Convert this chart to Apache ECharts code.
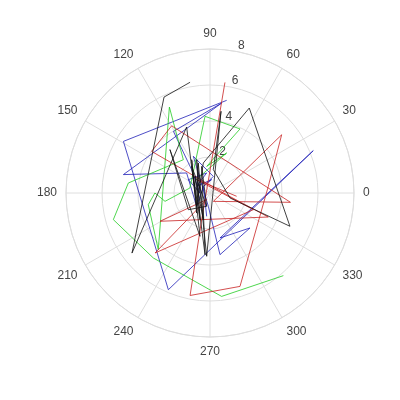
<!DOCTYPE html>
<html>
<head>
<meta charset="utf-8">
<script src="https://cdn.jsdelivr.net/npm/echarts@6/dist/echarts.min.js"></script>
<style>
html, body { margin: 0; padding: 0; background: #fff; }
#chart { width: 400px; height: 400px; }
</style>
</head>
<body>
<div id="chart"></div>
<script>
// angle ticks (degrees) and radius ticks
var angleTicks = [0, 30, 60, 90, 120, 150, 180, 210, 240, 270, 300, 330];
var radiusTicks = [2, 4, 6, 8];

// radius, angle (deg)
var redR = [6.2, 1.55, 5.8, 5.45, 3.26, 5.13, 0.5, 4.5, 4.3, 3.98, 0.93, 3.5, 3.19, 0.41, 4.52, 2.58, 1.05, 1.49];
var redA = [82.3, 252.6, 259, 287.8, 6.5, 39.1, 292, 353.4, 119.7, 144.5, 354, 337.6, 209.5, 243, 227.5, 339, 135, 353];

var greenR = [6.14, 5.78, 4.79, 5.57, 4.57, 2.37, 5.28, 4.26, 3.49, 3.06, 2.54, 1.15, 4.27, 3.93, 1.49, 2.41, 1.08];
var greenA = [311.6, 276.4, 228.9, 195.4, 173, 128.7, 115.3, 227.6, 190.7, 180, 190.5, 166, 93.7, 64.9, 97, 67.4, 121];

var blueR = [5.23, 5.6, 5.85, 6.2, 2.56, 2.95, 3.47, 0.75, 2.24, 0.94, 0.52, 1.05, 1.71, 4.92, 5.04, 3.98,
    1.65, 0.56, 1.41, 1.13, 0.83, 0.75, 0.52, 1.31];
var blueA = [79.8, 149.2, 246.7, 22.3, 282.5, 318.8, 279.2, 263, 114.4, 78.7, 135, 225, 139.4, 168, 82.6, 120.7,
    128.2, 180, 148.4, 99.5, 153.4, 82.9, 135, 261.9];

var blackR = [6.25, 5.91, 5.47, 3.89, 1.05, 1.71, 5.2, 4.81, 1.15, 1.31, 4.58, 3.52, 1.99, 1.58, 1.8, 0.76, 1.52, 3.28, 2.47,
    2.11, 1.34, 1.79, 1.53, 1.25, 3.44, 1.55, 0.76];
var blackA = [100.2, 115.6, 217.6, 109.5, 225, 102.5, 65.2, 337.4, 346, 81.9, 82.3, 267, 111.8, 249.4, 124.5, 256, 217.6, 132.7, 257,
    118.8, 236.3, 111.3, 256, 132, 265.4, 107.4, 256];

function pairs(r, a) {
    var out = [];
    for (var i = 0; i < r.length; i++) {
        out.push([r[i], a[i]]);
    }
    return out;
}

function lineSeries(name, r, a, color) {
    return {
        name: name,
        type: 'line',
        coordinateSystem: 'polar',
        polarIndex: 0,
        symbol: 'none',
        animation: false,
        lineStyle: { width: 0.8, color: color },
        data: pairs(r, a)
    };
}

var gridColor = '#dedede';
var textColor = '#444';
var center = ['210', '193'];
var radius = 144;

var option = {
    animation: false,
    polar: [
        { center: center, radius: radius },
        { center: center, radius: radius }
    ],
    angleAxis: [{
        polarIndex: 0,
        type: 'value',
        min: 0,
        max: 360,
        interval: 30,
        startAngle: 0,
        clockwise: false,
        axisLine: { lineStyle: { color: gridColor, width: 1 } },
        axisTick: { show: false },
        splitLine: { lineStyle: { color: gridColor, width: 1 } },
        axisLabel: {
            color: textColor,
            fontSize: 12,
            fontFamily: 'Liberation Sans, Arial, sans-serif',
            margin: 9,
            formatter: function (v) {
                return angleTicks.indexOf(v) >= 0 ? String(v) : '';
            }
        }
    }, {
        // only here to place the radius labels along the 80 degree line
        polarIndex: 1,
        type: 'value',
        min: 0,
        max: 360,
        startAngle: 80,
        clockwise: false,
        axisLine: { show: false },
        axisTick: { show: false },
        axisLabel: { show: false },
        splitLine: { show: false }
    }],
    radiusAxis: [{
        polarIndex: 0,
        type: 'value',
        min: 0,
        max: 8,
        interval: 2,
        axisLine: { show: false },
        axisTick: { show: false },
        axisLabel: { show: false },
        splitLine: { lineStyle: { color: gridColor, width: 1 } }
    }, {
        polarIndex: 1,
        type: 'value',
        min: 0,
        max: 8,
        interval: 2,
        axisLine: { show: false },
        axisTick: { show: false },
        splitLine: { show: false },
        axisLabel: {
            color: textColor,
            fontSize: 12,
            fontFamily: 'Liberation Sans, Arial, sans-serif',
            margin: -3,
            align: 'left',
            verticalAlign: 'bottom',
            formatter: function (v) {
                return radiusTicks.indexOf(v) >= 0 ? String(v) : '';
            }
        }
    }],
    series: [
        lineSeries('blue', blueR, blueA, '#2020b8'),
        lineSeries('green', greenR, greenA, '#22cc22'),
        lineSeries('red', redR, redA, '#c82222'),
        lineSeries('black', blackR, blackA, '#111111')
    ]
};

var chart = echarts.init(document.getElementById('chart'));
chart.setOption(option);
</script>
</body>
</html>
